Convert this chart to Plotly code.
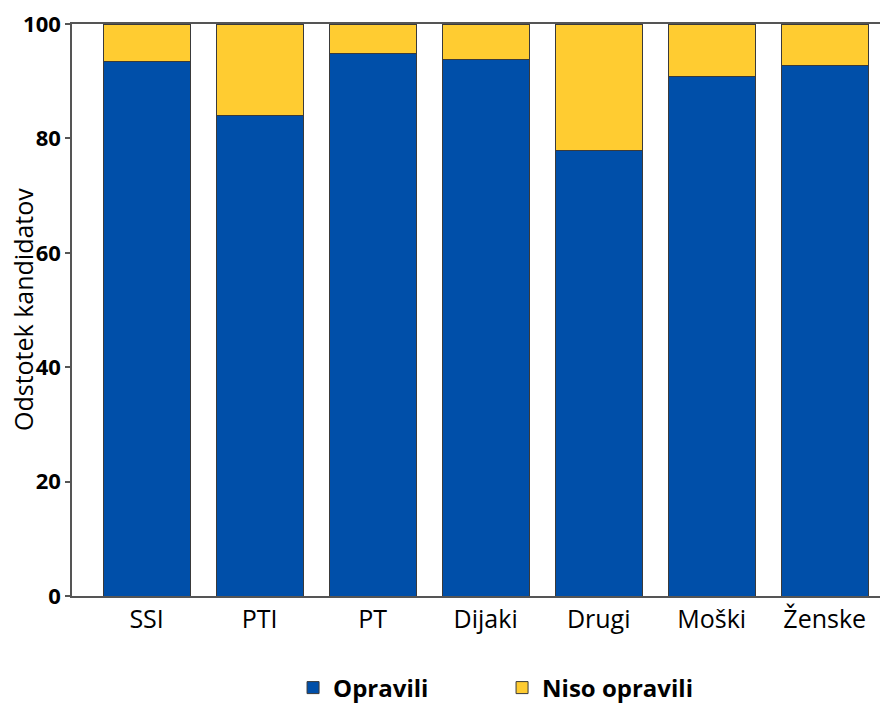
import plotly.graph_objects as go

categories = ["SSI", "PTI", "PT", "Dijaki", "Drugi", "Moški", "Ženske"]
opravili = [93.4, 84.0, 94.9, 93.8, 77.8, 90.9, 92.8]
niso_opravili = [6.6, 16.0, 5.1, 6.2, 22.2, 9.1, 7.2]
y_ticks = [0, 20, 40, 60, 80, 100]

FONT = "Open Sans"
BLUE = "#004FA9"
YELLOW = "#FFCC31"

fig = go.Figure()
fig.add_bar(x=categories, y=opravili, name="Opravili",
            marker=dict(color=BLUE, line=dict(color="#3a3a3a", width=1)))
fig.add_bar(x=categories, y=niso_opravili, name="Niso opravili",
            marker=dict(color=YELLOW, line=dict(color="#3a3a3a", width=1)))

fig.update_layout(
    width=888, height=704,
    barmode="stack", bargap=0.23,
    plot_bgcolor="white", paper_bgcolor="white",
    margin=dict(l=64, r=8, t=16, b=116, autoexpand=False),
    font=dict(family=FONT, color="black"),
    legend=dict(orientation="h", xref="container", yref="container",
                x=0.321, xanchor="left", y=1 - 680 / 704, yanchor="middle",
                font=dict(family=FONT, size=24, weight="bold"),
                entrywidth=164, entrywidthmode="pixels", itemwidth=30,
                traceorder="normal"),
    showlegend=True,
    annotations=[dict(text="Odstotek kandidatov", textangle=-90,
                      xref="paper", yref="paper", x=-49 / 816, y=0.5,
                      xanchor="center", yanchor="middle", showarrow=False,
                      font=dict(family=FONT, size=25, color="black"))],
)
fig.update_xaxes(
    type="category", range=[-0.66, 6.56], automargin=False,
    showline=True, linecolor="#555555", linewidth=1.5, mirror=True,
    ticks="", tickfont=dict(family=FONT, size=25), ticklabelstandoff=0,
    ticklabeloverflow="allow", showgrid=False,
)
fig.update_yaxes(
    range=[0, 100], tickvals=y_ticks, automargin=False,
    showline=True, linecolor="#555555", linewidth=1.5,
    ticks="outside", ticklen=5, tickcolor="#555555", tickwidth=1.5,
    tickfont=dict(family=FONT, size=22, weight="bold"),
    ticklabeloverflow="allow", showgrid=False, zeroline=False,
)

fig.write_html("out.html")
